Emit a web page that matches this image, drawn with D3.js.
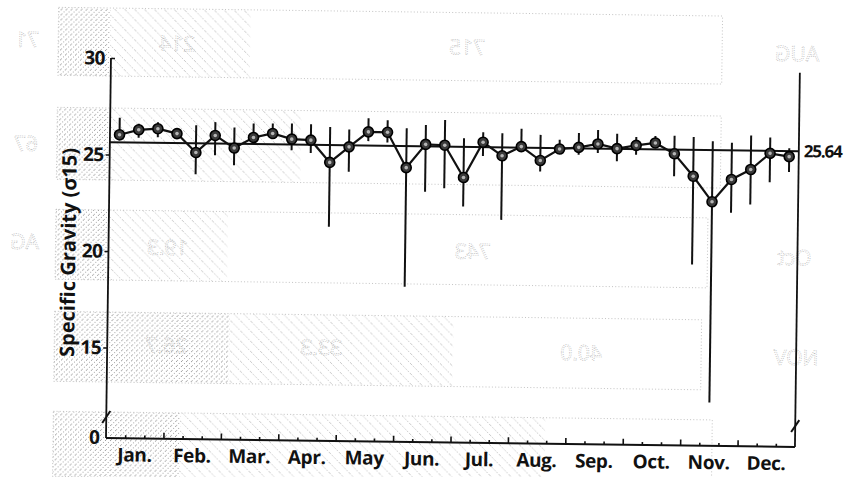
<!DOCTYPE html>
<html>
<head>
<meta charset="utf-8">
<script src="https://cdn.jsdelivr.net/npm/d3@7"></script>
<style>
  body { margin: 0; background: #fff; }
  svg text { font-family: 'Open Sans', 'Liberation Sans', sans-serif; }
</style>
</head>
<body>
<script>
const width = 845
const height = 477

// ten-day means of specific gravity (sigma 15), three per month
const months = ['Jan.', 'Feb.', 'Mar.', 'Apr.', 'May', 'Jun.', 'Jul.', 'Aug.', 'Sep.', 'Oct.', 'Nov.', 'Dec.']
const sg = [26.03, 26.30, 26.37, 26.13, 25.16, 26.06, 25.42, 25.98, 26.20, 25.92, 25.88, 24.74,
  25.56, 26.35, 26.34, 24.52, 25.74, 25.71, 24.05, 25.89, 25.20, 25.69, 24.98, 25.59,
  25.69, 25.88, 25.65, 25.83, 25.97, 25.42, 24.27, 22.96, 24.13, 24.66, 25.51, 25.35]
const sgHigh = [26.91, 26.61, 26.71, 26.38, 26.57, 26.75, 26.48, 26.70, 26.72, 26.73, 26.71, 26.58,
  26.46, 27.05, 26.97, 26.56, 26.74, 27.02, 26.08, 26.41, 26.37, 26.62, 26.31, 26.07,
  26.43, 26.60, 26.42, 26.26, 26.33, 26.35, 26.30, 26.10, 26.03, 26.42, 26.33, 25.79]
const sgLow = [25.73, 25.89, 25.93, 25.92, 24.04, 25.03, 24.53, 25.75, 25.96, 25.35, 25.22, 21.41,
  24.27, 25.87, 25.81, 18.35, 23.29, 23.48, 22.55, 25.18, 21.88, 25.47, 24.41, 25.38,
  25.31, 25.41, 24.99, 25.35, 25.80, 24.26, 19.70, 12.56, 22.41, 22.85, 24.01, 24.56]
const meanSg = 25.64
const yTicks = [15, 20, 25, 30]

const x0 = 106
const x1 = 795
const yBase = 438
const yBreak = 417

const svg = d3.select('body').append('svg')
  .attr('width', width)
  .attr('height', height)
  .style('background', '#fff')

// the scanned page sits a little askew
const g = svg.append('g')
  .attr('transform', `rotate(0.75, ${x0}, ${yBase})`)

const x = d3.scaleLinear().domain([0, 36]).range([x0, x1])
const xMonth = d3.scaleBand().domain(months).range([x0, x1])
const y = d3.scaleLinear().domain([15, 30]).range([347.5, 58])

// --- faint show-through of the reverse page ---
const defs = svg.append('defs')
const stip = defs.append('pattern').attr('id', 'stipple')
  .attr('width', 5).attr('height', 5).attr('patternUnits', 'userSpaceOnUse')
stip.append('rect').attr('x', 0).attr('y', 0).attr('width', 1).attr('height', 1).attr('fill', '#9a9a9a')
stip.append('rect').attr('x', 3).attr('y', 2).attr('width', 1).attr('height', 1).attr('fill', '#a8a8a8')
stip.append('rect').attr('x', 1).attr('y', 4).attr('width', 1).attr('height', 1).attr('fill', '#b0b0b0')
const hatch = defs.append('pattern').attr('id', 'hatch')
  .attr('width', 10).attr('height', 10).attr('patternUnits', 'userSpaceOnUse')
hatch.append('path')
  .attr('d', 'M0,0L10,10M-1,9L1,11M9,-1L11,1')
  .attr('stroke', '#aaa').attr('stroke-width', 0.9).attr('stroke-dasharray', '1 1.6')

const ghost = g.append('g').attr('class', 'ghost')
const ghostRows = [
  { top: 8, h: 68, stip: [53, 105], hat: [105, 245], open: 717 },
  { top: 108, h: 72, stip: [53, 105], hat: [105, 297], open: 717 },
  { top: 210, h: 70, stip: [53, 105], hat: [105, 225], open: 705 },
  { top: 312, h: 70, stip: [53, 228], hat: [228, 452], open: 700 },
  { top: 412, h: 65, stip: [53, 180], hat: [180, 545], open: 712 }
]
ghostRows.forEach((r) => {
  ghost.append('rect').attr('x', r.stip[0]).attr('y', r.top)
    .attr('width', r.stip[1] - r.stip[0]).attr('height', r.h).attr('fill', 'url(#stipple)')
  ghost.append('rect').attr('x', r.hat[0]).attr('y', r.top)
    .attr('width', r.hat[1] - r.hat[0]).attr('height', r.h).attr('fill', 'url(#hatch)')
  ghost.append('rect').attr('x', r.stip[0]).attr('y', r.top)
    .attr('width', r.open - r.stip[0]).attr('height', r.h)
    .attr('fill', 'none').attr('stroke', '#b4b4b4').attr('stroke-width', 0.8)
    .attr('stroke-dasharray', '1 2.2')
})
const ghostText = [
  ['71', 22, 48], ['214', 172, 50], ['715', 462, 50], ['AUG', 792, 52],
  ['67', 22, 152], ['AG', 22, 250], ['19.3', 165, 254], ['743', 470, 254], ['Oct', 792, 256],
  ['26.7', 165, 352], ['33.3', 320, 352], ['40.0', 580, 354], ['NOV', 795, 356]
]
ghost.selectAll('text.gt')
  .data(ghostText)
  .enter()
  .append('text')
  .attr('class', 'gt')
  .attr('transform', (d) => `translate(${d[1]},${d[2]}) scale(-1,1)`)
  .attr('text-anchor', 'middle')
  .attr('font-size', 21)
  .attr('fill', 'none')
  .attr('stroke', '#b8b8b8')
  .attr('stroke-width', 0.7)
  .attr('stroke-dasharray', '1 1.2')
  .text((d) => d[0])

// --- axes ---
const ink = '#111'
const fs = 19

// bottom axis: ten-day ticks, taller at month boundaries
const minor = g.append('g').attr('transform', `translate(0,${yBase})`)
  .call(d3.axisTop(x).tickValues(d3.range(1, 36).filter((d) => d % 3 !== 0)).tickSize(3).tickFormat(''))
const major = g.append('g').attr('transform', `translate(0,${yBase})`)
  .call(d3.axisTop(x).tickValues(d3.range(3, 36, 3)).tickSize(6).tickFormat(''))
minor.select('.domain').remove()
major.select('.domain').attr('d', `M${x0},0H${x1}`)
g.selectAll('.tick line').attr('stroke', ink).attr('stroke-width', 1.6)
major.select('.domain').attr('stroke', ink).attr('stroke-width', 2)

const monthAxis = g.append('g').attr('transform', `translate(0,${yBase + 6})`)
  .call(d3.axisBottom(xMonth).tickSize(0))
monthAxis.select('.domain').remove()
monthAxis.selectAll('text')
  .attr('font-size', fs)
  .attr('font-weight', 700)
  .attr('letter-spacing', -0.4)
  .attr('fill', ink)
  .attr('dy', '0.75em')

// left axis
const left = g.append('g').attr('transform', `translate(${x0},0)`)
  .call(d3.axisLeft(y).tickValues(yTicks).tickSize(4).tickPadding(2))
left.select('.domain').remove()
left.selectAll('.tick line').attr('stroke', ink).attr('stroke-width', 1.5)
left.selectAll('.tick').filter((d) => d === 30).select('line').attr('x2', 4)
left.selectAll('text')
  .attr('font-size', fs)
  .attr('font-weight', 700)
  .attr('letter-spacing', -0.5)
  .attr('fill', ink)
left.append('text')
  .attr('x', -6)
  .attr('y', yBase)
  .attr('dy', '0.32em')
  .attr('text-anchor', 'end')
  .attr('font-size', fs)
  .attr('font-weight', 700)
  .attr('fill', ink)
  .text('0')

g.append('line')
  .attr('x1', x0).attr('x2', x0)
  .attr('y1', y(30)).attr('y2', yBase)
  .attr('stroke', ink).attr('stroke-width', 1.8)

// right axis
g.append('line')
  .attr('x1', x1).attr('x2', x1)
  .attr('y1', y(29.7)).attr('y2', yBase)
  .attr('stroke', ink).attr('stroke-width', 1.8)

// axis breaks
;[x0, x1].forEach((xx) => {
  g.append('line')
    .attr('x1', xx - 4).attr('y1', yBreak + 6)
    .attr('x2', xx + 4).attr('y2', yBreak - 6)
    .attr('stroke', ink).attr('stroke-width', 2)
})

// y axis title
g.append('text')
  .attr('transform', `translate(${x0 - 33},${y(19.9)}) rotate(-90)`)
  .attr('text-anchor', 'middle')
  .attr('font-size', 20)
  .attr('font-weight', 700)
  .attr('fill', ink)
  .text('Specific  Gravity  (σ15)')

// --- mean line ---
g.append('line')
  .attr('x1', x0).attr('x2', x1)
  .attr('y1', y(meanSg)).attr('y2', y(meanSg))
  .attr('stroke', ink).attr('stroke-width', 2)

g.append('text')
  .attr('x', x1 + 5)
  .attr('y', y(meanSg))
  .attr('dy', '0.35em')
  .attr('font-size', 17)
  .attr('font-weight', 700)
  .attr('letter-spacing', -1.2)
  .attr('fill', ink)
  .text(meanSg.toFixed(2))

// --- error bars ---
const idx = d3.range(sg.length)
g.append('g')
  .selectAll('line')
  .data(idx)
  .enter()
  .append('line')
  .attr('x1', (i) => x(i + 0.5))
  .attr('x2', (i) => x(i + 0.5))
  .attr('y1', (i) => y(sgHigh[i]))
  .attr('y2', (i) => y(sgLow[i]))
  .attr('stroke', ink)
  .attr('stroke-width', 2)

// --- series line ---
const line = d3.line()
  .x((i) => x(i + 0.5))
  .y((i) => y(sg[i]))

g.append('path')
  .datum(idx)
  .attr('d', line)
  .attr('fill', 'none')
  .attr('stroke', ink)
  .attr('stroke-width', 2.2)

// --- markers ---
const marks = g.append('g')
  .selectAll('g')
  .data(idx)
  .enter()
  .append('g')
  .attr('transform', (i) => `translate(${x(i + 0.5)},${y(sg[i])})`)

marks.append('circle')
  .attr('r', 5)
  .attr('fill', '#3a3a3a')
  .attr('stroke', '#000')
  .attr('stroke-width', 1.6)
marks.append('circle')
  .attr('r', 1.8)
  .attr('fill', '#b5b5b5')
</script>
</body>
</html>
